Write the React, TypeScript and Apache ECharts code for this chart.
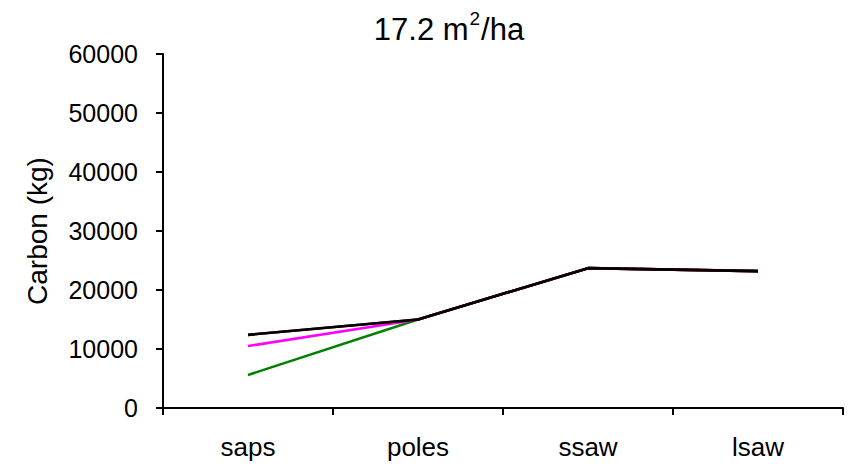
import React, { useEffect, useRef } from "react";
import * as echarts from "echarts";

const categories = ["saps", "poles", "ssaw", "lsaw"];
const greenValues = [5600, 15000, 23700, 23200];
const magentaValues = [10500, 15000, 23700, 23200];
const darkRedValues = [12400, 15000, 23700, 23200];
const blackValues = [12400, 15000, 23700, 23200];
const yTicks = [0, 10000, 20000, 30000, 40000, 50000, 60000];

export default function App() {
  const ref = useRef<HTMLDivElement>(null);
  useEffect(() => {
    if (!ref.current) return;
    const chart = echarts.init(ref.current, null, { renderer: "svg" });
    const font = "Liberation Sans";
    const mk = (name: string, data: number[], color: string) => ({
      name,
      type: "line",
      data,
      symbol: "none",
      lineStyle: { color, width: 2.6 },
      itemStyle: { color },
    });
    chart.setOption({
      animation: false,
      backgroundColor: "#ffffff",
      title: {
        text: "{a|17.2 m}{s|2}{a|/ha}",
        left: 444,
        textAlign: "center",
        top: 4,
        textStyle: {
          fontWeight: "normal",
          rich: {
            a: { fontSize: 31, fontFamily: font, fontWeight: "normal", color: "#000", verticalAlign: "bottom", lineHeight: 36 },
            s: { fontSize: 19, fontFamily: font, fontWeight: "normal", color: "#000", verticalAlign: "top", lineHeight: 36, padding: [0, 1, 13, 1] },
          },
        },
      },
      grid: { left: 163, right: 9, top: 54, bottom: 56, containLabel: false },
      xAxis: {
        type: "category",
        data: categories,
        boundaryGap: true,
        axisLine: { lineStyle: { color: "#000", width: 2 } },
        axisTick: { show: true, length: 7, inside: false, lineStyle: { color: "#000", width: 2 } },
        axisLabel: { color: "#000", fontSize: 26, lineHeight: 28, fontFamily: font, margin: 25 },
        splitLine: { show: false },
      },
      yAxis: {
        type: "value",
        min: yTicks[0],
        max: yTicks[yTicks.length - 1],
        interval: 10000,
        name: "Carbon (kg)",
        nameLocation: "middle",
        nameGap: 112,
        nameTextStyle: { color: "#000", fontSize: 28, fontFamily: font },
        axisLine: { show: true, lineStyle: { color: "#000", width: 2 } },
        axisTick: { show: true, length: 7, lineStyle: { color: "#000", width: 2 } },
        axisLabel: { color: "#000", fontSize: 25, fontFamily: font, margin: 25, formatter: (v: number) => String(v) },
        splitLine: { show: false },
      },
      series: [
        mk("green", greenValues, "#008000"),
        mk("magenta", magentaValues, "#ff00ff"),
        mk("darkred", darkRedValues, "#800000"),
        mk("black", blackValues, "#000000"),
      ],
    });
    return () => chart.dispose();
  }, []);
  return <div ref={ref} style={{ width: 852, height: 464, position: "absolute", left: 0, top: 0 }} />;
}
